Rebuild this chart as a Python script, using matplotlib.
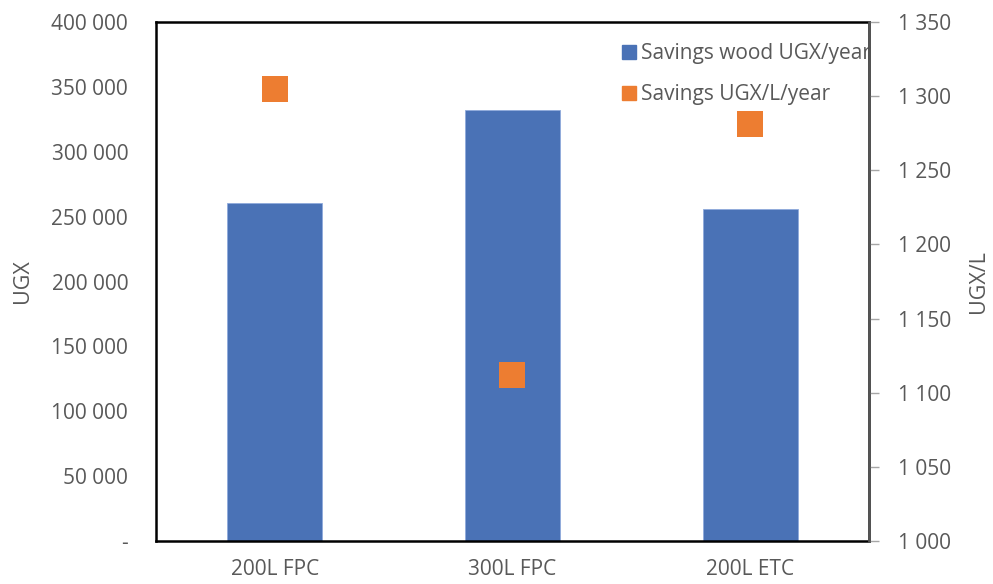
import matplotlib.pyplot as plt
from matplotlib.lines import Line2D
from matplotlib.ticker import FuncFormatter

# systems compared
systems = ["200L FPC", "300L FPC", "200L ETC"]
# yearly savings on wood (UGX) - left axis
wood_savings = [260300, 332400, 255900]
# yearly savings per litre (UGX/L) - right axis
litre_savings = [1305, 1112, 1281]

left_ticks = [0, 50000, 100000, 150000, 200000, 250000, 300000, 350000, 400000]
right_ticks = [1000, 1050, 1100, 1150, 1200, 1250, 1300, 1350]

BLUE = "#4A72B6"
ORANGE = "#ED7D31"
GREY = "#595959"
FS = 15

plt.rcParams["font.family"] = ["Open Sans", "DejaVu Sans"]


def thousands(v, _pos=None):
    if v == 0:
        return "-"
    return f"{int(round(v)):,}".replace(",", " ")


fig = plt.figure(figsize=(9.93, 5.84), dpi=100)
ax = fig.add_axes([0.1571, 0.0736, 0.7180, 0.8887])
x = list(range(len(systems)))

ax.bar(x, wood_savings, width=0.4, color=BLUE, edgecolor="#8FAADC", linewidth=0.6, zorder=2)
ax.set_xlim(-0.5, 2.5)
ax.set_ylim(0, 400000)
ax.set_yticks(left_ticks)
ax.yaxis.set_major_formatter(FuncFormatter(thousands))
ax.set_xticks(x)
ax.set_xticklabels(systems)
ax.tick_params(axis="y", length=0, pad=20, labelsize=FS, labelcolor=GREY)
ax.tick_params(axis="x", length=0, pad=13, labelsize=FS, labelcolor=GREY)
ax.set_ylabel("UGX", fontsize=FS + 0.5, color=GREY, labelpad=13)
for s in ax.spines.values():
    s.set_color("black")
    s.set_linewidth(1.8)

ax2 = ax.twinx()
ax2.scatter(x, litre_savings, marker="s", s=350, color=ORANGE, edgecolors="none", zorder=3)
ax2.set_ylim(1000, 1350)
ax2.set_yticks(right_ticks)
ax2.yaxis.set_major_formatter(FuncFormatter(lambda v, p: thousands(v)))
ax2.tick_params(axis="y", length=7, width=1, color="#A6A6A6", pad=14,
                labelsize=FS, labelcolor=GREY)
ax2.set_ylabel("UGX/L", fontsize=FS + 0.5, color=GREY, labelpad=12)
for s in ax2.spines.values():
    s.set_visible(False)
ax2.spines["right"].set_visible(True)
ax2.spines["right"].set_color("#555555")
ax2.spines["right"].set_linewidth(2.0)

handles = [
    Line2D([], [], marker="s", linestyle="none", markersize=10, color=BLUE),
    Line2D([], [], marker="s", linestyle="none", markersize=10, color=ORANGE),
]
leg = ax.legend(handles, ["Savings wood UGX/year", "Savings UGX/L/year"],
                loc="upper left", bbox_to_anchor=(0.641, 0.975), frameon=False,
                fontsize=FS, handlelength=0.7, handletextpad=0.25,
                labelspacing=0.95, borderaxespad=0)
leg.set_zorder(1)
for t in leg.get_texts():
    t.set_color(GREY)

fig.savefig("out.png", dpi=100)
